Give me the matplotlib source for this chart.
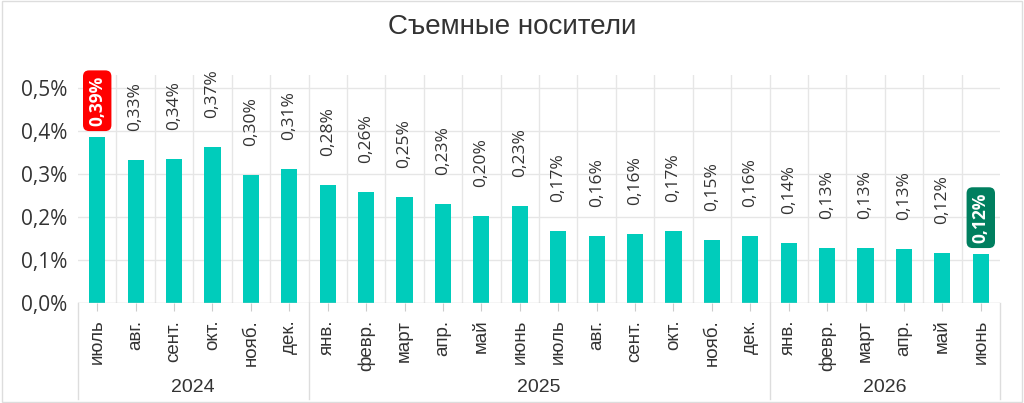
import matplotlib.pyplot as plt
from matplotlib.transforms import blended_transform_factory
from matplotlib.patches import Rectangle

months = ['июль', 'авг.', 'сент.', 'окт.', 'нояб.', 'дек.',
          'янв.', 'февр.', 'март', 'апр.', 'май', 'июнь',
          'июль', 'авг.', 'сент.', 'окт.', 'нояб.', 'дек.',
          'янв.', 'февр.', 'март', 'апр.', 'май', 'июнь']
years = ['2024', '2025', '2026']
year_counts = [6, 12, 6]
values = [0.386, 0.333, 0.335, 0.363, 0.298, 0.312,
          0.274, 0.258, 0.247, 0.230, 0.202, 0.226,
          0.167, 0.156, 0.160, 0.167, 0.147, 0.156,
          0.140, 0.128, 0.128, 0.126, 0.116, 0.114]
labels = ['0,39%', '0,33%', '0,34%', '0,37%', '0,30%', '0,31%',
          '0,28%', '0,26%', '0,25%', '0,23%', '0,20%', '0,23%',
          '0,17%', '0,16%', '0,16%', '0,17%', '0,15%', '0,16%',
          '0,14%', '0,13%', '0,13%', '0,13%', '0,12%', '0,12%']
yticks = [0.0, 0.1, 0.2, 0.3, 0.4, 0.5]

bar_color = '#00CCBB'
grid_color = '#e6e6e6'
text_color = '#333333'

fig = plt.figure(figsize=(10.24, 4.03), dpi=100)
ax = fig.add_axes([78 / 1024, 1 - 303 / 403, 922 / 1024, 228 / 403])

x = list(range(len(values)))
ax.bar(x, values, width=0.42, color=bar_color, zorder=3)

ax.set_xlim(-0.5, len(values) - 0.5)
ax.set_ylim(0, 0.53)
ax.set_yticks(yticks)
ax.set_yticklabels([f'{t:.1f}%'.replace('.', ',') for t in yticks],
                   fontsize=15, color=text_color, family='Open Sans')
ax.set_xticks(x)
ax.set_xticklabels(months, rotation=90, fontsize=13.5, color=text_color,
                   family='Liberation Sans', va='top')
ax.tick_params(axis='x', length=6, color='#cccccc', pad=6)
ax.tick_params(axis='y', length=0, pad=8)

for s in ax.spines.values():
    s.set_visible(False)
ax.axhline(0, color='#cccccc', lw=1, zorder=4)

# grid
for t in yticks[1:]:
    ax.axhline(t, color=grid_color, lw=1, zorder=1)
for b in range(1, len(values)):
    ax.axvline(b - 0.5, color=grid_color, lw=1, zorder=1)

# value labels
imax = values.index(max(values))
imin = len(values) - 1 - values[::-1].index(min(values))
for i, (v, lab) in enumerate(zip(values, labels)):
    if i in (imax, imin):
        fc = '#FF0000' if i == imax else '#007F5F'
        ax.annotate(lab, (i, v), xytext=(0, 8), textcoords='offset points',
                    rotation=90, ha='center', va='bottom', fontsize=12.5,
                    color='white', fontweight='bold', family='Open Sans',
                    bbox=dict(boxstyle='round,pad=0.3,rounding_size=0.35',
                              fc=fc, ec='none'), zorder=5)
    else:
        ax.annotate(lab, (i, v), xytext=(0, 21), textcoords='offset points',
                    rotation=90, ha='center', va='bottom', fontsize=12.5,
                    color=text_color, family='Open Sans', zorder=5)

# year groups under the axis
trans = blended_transform_factory(ax.transData, ax.transAxes)
start = 0
bounds = [-0.5]
for yr, n in zip(years, year_counts):
    ax.text(start + (n - 1) / 2, -0.37, yr, transform=trans, ha='center',
            va='center', fontsize=14, color=text_color, family='Liberation Sans')
    start += n
    bounds.append(start - 0.5)
for b in bounds:
    ax.plot([b, b], [0, -0.42], transform=trans, color='#dddddd', lw=1,
            clip_on=False)

fig.text(0.5, 1 - 27 / 403, 'Съемные носители', ha='center', va='center',
         fontsize=20, color=text_color, family='Liberation Sans')

fig.patches.append(Rectangle((0.002, 0.003), 0.996, 0.994, transform=fig.transFigure,
                             fill=False, ec='#dddddd', lw=1))

fig.savefig('out.png', dpi=100)
